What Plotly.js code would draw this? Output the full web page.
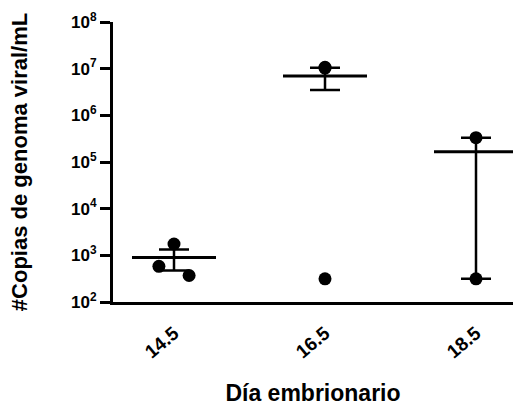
<!DOCTYPE html>
<html>
<head>
<meta charset="utf-8">
<script src="https://cdn.plot.ly/plotly-3.0.1.min.js"></script>
<style>html,body{margin:0;padding:0;background:#fff;}#chart{width:513px;height:407px;}</style>
</head>
<body>
<div id="chart"></div>
<script>
// Categories (embryonic day) and measured values per category
const categories = ["14.5", "16.5", "18.5"];
const values145 = [1750, 580, 370];
const values165 = [10700000, 10300000, 313];
const values185 = [332000, 313];
const yTickExponents = [2, 3, 4, 5, 6, 7, 8];

const groups = [values145, values165, values185];
// horizontal spread of overlapping points (category units)
const spread = [[0, -0.1, 0.1], [0, 0, 0], [0, 0]];

function mean(a) { return a.reduce((s, v) => s + v, 0) / a.length; }
function sem(a) {
  const m = mean(a);
  const v = a.reduce((s, x) => s + (x - m) * (x - m), 0) / (a.length - 1);
  return Math.sqrt(v) / Math.sqrt(a.length);
}

const means = groups.map(mean);
const sems = groups.map(sem);
const idx = categories.map((c, i) => i);

const px = [], py = [];
groups.forEach((g, i) => g.forEach((v, j) => { px.push(i + spread[i][j]); py.push(v); }));

const font = "Liberation Sans, Arial, sans-serif";

const traces = [
  {
    x: idx, y: means, type: "scatter", mode: "markers",
    marker: { symbol: "line-ew", size: 60, color: "#000", line: { color: "#000", width: 3 } },
    error_y: { type: "data", array: sems, visible: true, color: "#000", thickness: 2.5, width: 15 },
    hoverinfo: "skip", showlegend: false, cliponaxis: false
  },
  {
    x: px, y: py, type: "scatter", mode: "markers",
    marker: { symbol: "circle", size: 13, color: "#000" },
    showlegend: false, cliponaxis: false
  }
];

const layout = {
  width: 513, height: 407,
  margin: { l: 113, r: 0, t: 22, b: 105 },
  paper_bgcolor: "#fff", plot_bgcolor: "#fff",
  showlegend: false,
  font: { family: font, color: "#000" },
  xaxis: {
    range: [-0.404, 2.245],
    tickvals: idx, ticktext: categories,
    tickangle: -40,
    ticks: "", ticklabelstandoff: 10,
    showgrid: false, zeroline: false,
    showline: true, linewidth: 3, linecolor: "#000",
    tickfont: { family: font, size: 19, color: "#000", weight: "bold" },
    title: { text: "<b>Día embrionario</b>", font: { family: font, size: 23, color: "#000" }, standoff: 24 }
  },
  yaxis: {
    type: "log", range: [2, 8],
    tickvals: yTickExponents.map(e => Math.pow(10, e)),
    ticktext: yTickExponents.map(e => "10<sup>" + e + "</sup>"),
    ticks: "outside", ticklen: 10, tickwidth: 3, tickcolor: "#000",
    showgrid: false, zeroline: false,
    showline: true, linewidth: 3, linecolor: "#000",
    tickfont: { family: font, size: 17, color: "#000", weight: "bold" },
    title: { text: "<b>#Copias de genoma viral/mL</b>", font: { family: font, size: 22, color: "#000" }, standoff: 38 }
  }
};

Plotly.newPlot("chart", traces, layout, { displayModeBar: false, staticPlot: true });
</script>
</body>
</html>
